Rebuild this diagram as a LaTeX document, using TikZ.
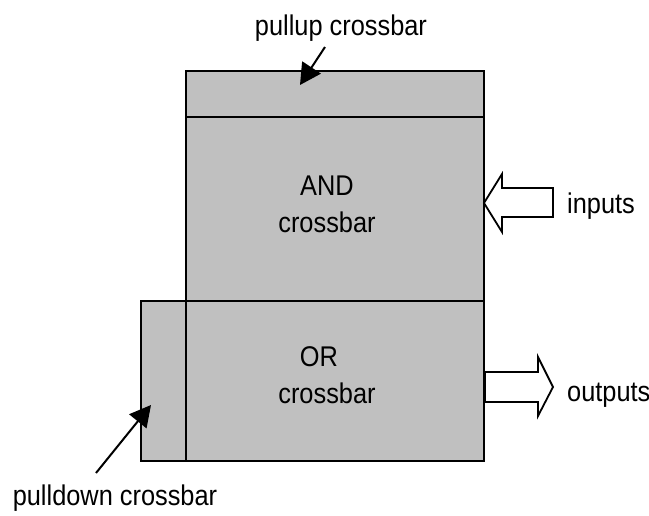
\documentclass[tikz,border=0pt]{standalone}
\usepackage{fontspec}
\setmainfont[FakeStretch=0.89]{Liberation Sans}
\usetikzlibrary{arrows.meta}
\definecolor{boxgray}{HTML}{C0C0C0}
\begin{document}
\begin{tikzpicture}[x=1pt,y=-1pt,
  blk/.style={draw=black,fill=boxgray,line width=2pt},
  lbl/.style={font=\fontsize{28.5}{37}\selectfont,inner sep=0pt,align=center,anchor=base},
  fatarrow/.style={draw=black,fill=white,line width=1.8pt,line join=miter},
  ptr/.style={line width=2pt,-{Triangle[length=21pt,width=22pt]}}]
\useasboundingbox (0,0) rectangle (649,515);
% blocks
\draw[blk] (186,71) rectangle (484,117);
\draw[blk] (186,117) rectangle (484,301);
\draw[blk] (141,301) rectangle (186,461);
\draw[blk] (186,301) rectangle (484,461);
\coordinate (pu) at (300,85);
\coordinate (pd) at (151,405);
% labels
\node[lbl] (pullup) at (341,35) {pullup crossbar};
\node[lbl] (and) at (327,232) {AND\\crossbar};
\node[lbl] (or) at (327,403) {OR\hspace*{16pt}\\crossbar};
\node[lbl] (pulldown) at (115,505) {pulldown crossbar};
\node[lbl,anchor=base west] (inputs) at (567,213) {inputs};
\node[lbl,anchor=base west] (outputs) at (567,401) {outputs};
% pointer arrows
\draw[ptr] (325,47) -- (pu);
\draw[ptr] (96,473) -- (pd);
% fat arrows
\draw[fatarrow] (484,203) -- (502,174) -- (502,188) -- (553,188) -- (553,217) -- (502,217) -- (502,232) -- cycle;
\draw[fatarrow] (553,387) -- (538,416) -- (538,402) -- (485,402) -- (485,372) -- (538,372) -- (538,357) -- cycle;
\end{tikzpicture}
\end{document}
